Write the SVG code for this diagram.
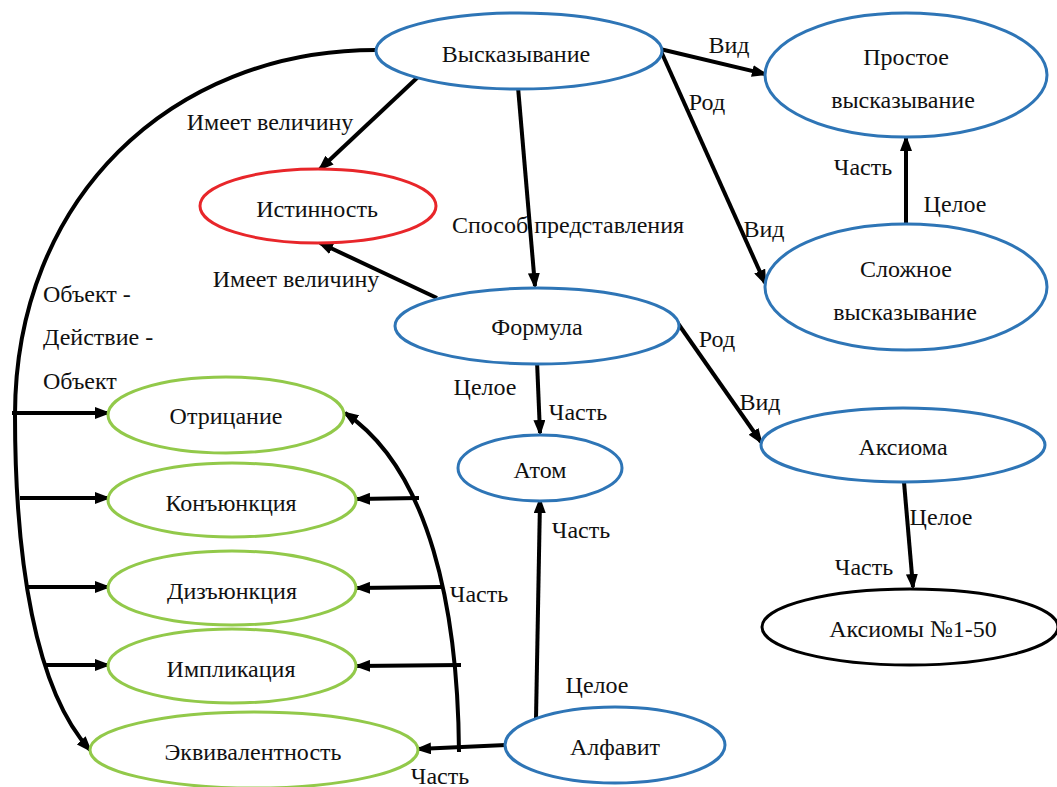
<svg xmlns="http://www.w3.org/2000/svg" width="1057" height="787" viewBox="0 0 1057 787">
<defs>
<marker id="ah" markerUnits="userSpaceOnUse" markerWidth="16" markerHeight="12" refX="13" refY="6" orient="auto">
<path d="M0,0 L16,6 L0,12 z" fill="#000"/>
</marker>
<style>
text{font-family:'Liberation Serif','Times New Roman',serif;font-size:24px;fill:#111}
.n{text-anchor:middle}
.m{text-anchor:middle}
.s{text-anchor:start}
.b{fill:#fff;stroke:#2E75B6;stroke-width:3}
.r{fill:#fff;stroke:#E8262A;stroke-width:3}
.g{fill:#fff;stroke:#92C94A;stroke-width:3}
.k{fill:#fff;stroke:#000;stroke-width:3}
.c{fill:none;stroke:#000;stroke-width:4}
.a{marker-end:url(#ah)}
</style>
</defs>
<rect width="1057" height="787" fill="#fff"/>
<g id="connectors">
<path class="c a" d="M376,50 C170,50 15,200 15,415 C15,560 35,690 90,750"/>
<line class="c a" x1="12" y1="413" x2="108" y2="413"/>
<line class="c a" x1="20" y1="498" x2="108" y2="498"/>
<line class="c a" x1="28" y1="587" x2="108" y2="587"/>
<line class="c a" x1="45" y1="665" x2="108" y2="665"/>
<line class="c a" x1="506" y1="745" x2="418" y2="749"/>
<path class="c a" d="M459,752 C458,610 430,470 345,413"/>
<line class="c a" x1="419" y1="498" x2="357" y2="499"/>
<line class="c a" x1="441" y1="587" x2="357" y2="588"/>
<line class="c a" x1="461" y1="665" x2="357" y2="666"/>
<line class="c a" x1="418" y1="77" x2="320" y2="169"/>
<line class="c a" x1="437" y1="298" x2="320" y2="243"/>
<line class="c a" x1="518" y1="87" x2="535" y2="286"/>
<line class="c a" x1="660" y1="49" x2="765" y2="74"/>
<line class="c a" x1="660" y1="49" x2="765" y2="283"/>
<line class="c a" x1="906" y1="225" x2="906" y2="138"/>
<line class="c a" x1="677" y1="322" x2="761" y2="442"/>
<line class="c a" x1="537" y1="361" x2="540" y2="433"/>
<line class="c a" x1="536" y1="719" x2="540" y2="500"/>
<line class="c a" x1="904" y1="482" x2="913" y2="587"/>
</g>
<g id="labels">
<text class="m" x="270" y="130">Имеет величину</text>
<text class="m" x="296" y="287">Имеет величину</text>
<text class="s" x="43" y="302">Объект -</text>
<text class="s" x="43" y="345">Действие -</text>
<text class="s" x="43" y="389">Объект</text>
<text class="m" x="568" y="233">Способ представления</text>
<text class="m" x="729" y="53">Вид</text>
<text class="m" x="707" y="110">Род</text>
<text class="m" x="764" y="237">Вид</text>
<text class="m" x="863" y="175">Часть</text>
<text class="m" x="955" y="212">Целое</text>
<text class="m" x="717" y="347">Род</text>
<text class="m" x="760" y="410">Вид</text>
<text class="m" x="485" y="395">Целое</text>
<text class="m" x="578" y="420">Часть</text>
<text class="m" x="581" y="538">Часть</text>
<text class="m" x="597" y="693">Целое</text>
<text class="m" x="941" y="525">Целое</text>
<text class="m" x="864" y="575">Часть</text>
<text class="m" x="479" y="602">Часть</text>
<text class="m" x="440" y="784">Часть</text>
</g>
<g id="n-vyskazyvanie"><ellipse class="b" cx="519" cy="51" rx="143" ry="38"/><text class="n" x="516" y="62">Высказывание</text></g>
<g id="n-prostoe"><ellipse class="b" cx="906" cy="75" rx="141" ry="62"/><text class="n" x="906" y="65">Простое</text><text class="n" x="903" y="108">высказывание</text></g>
<g id="n-slozhnoe"><ellipse class="b" cx="906" cy="287" rx="141" ry="63"/><text class="n" x="906" y="277">Сложное</text><text class="n" x="905" y="320">высказывание</text></g>
<g id="n-istinnost"><ellipse class="r" cx="318" cy="206" rx="118" ry="37"/><text class="n" x="317" y="217">Истинность</text></g>
<g id="n-formula"><ellipse class="b" cx="537" cy="326" rx="142" ry="38"/><text class="n" x="537" y="335">Формула</text></g>
<g id="n-atom"><ellipse class="b" cx="540" cy="468" rx="82" ry="33"/><text class="n" x="540" y="478">Атом</text></g>
<g id="n-aksioma"><ellipse class="b" cx="903" cy="445" rx="142" ry="37"/><text class="n" x="903" y="455">Аксиома</text></g>
<g id="n-aksiomy"><ellipse class="k" cx="910" cy="627" rx="148" ry="38"/><text class="n" x="913" y="637">Аксиомы №1-50</text></g>
<g id="n-alfavit"><ellipse class="b" cx="615" cy="745" rx="110" ry="38"/><text class="n" x="615" y="755">Алфавит</text></g>
<g id="n-otricanie"><ellipse class="g" cx="226" cy="415" rx="118" ry="38"/><text class="n" x="226" y="424">Отрицание</text></g>
<g id="n-konjunkcija"><ellipse class="g" cx="232" cy="500" rx="124" ry="37"/><text class="n" x="231" y="511">Конъюнкция</text></g>
<g id="n-dizjunkcija"><ellipse class="g" cx="232" cy="588" rx="124" ry="37"/><text class="n" x="232" y="599">Дизъюнкция</text></g>
<g id="n-implikacija"><ellipse class="g" cx="232" cy="666" rx="124" ry="37"/><text class="n" x="231" y="677">Импликация</text></g>
<g id="n-ekvivalentnost"><ellipse class="g" cx="254" cy="750" rx="164" ry="38"/><text class="n" x="253" y="760">Эквивалентность</text></g>
</svg>
